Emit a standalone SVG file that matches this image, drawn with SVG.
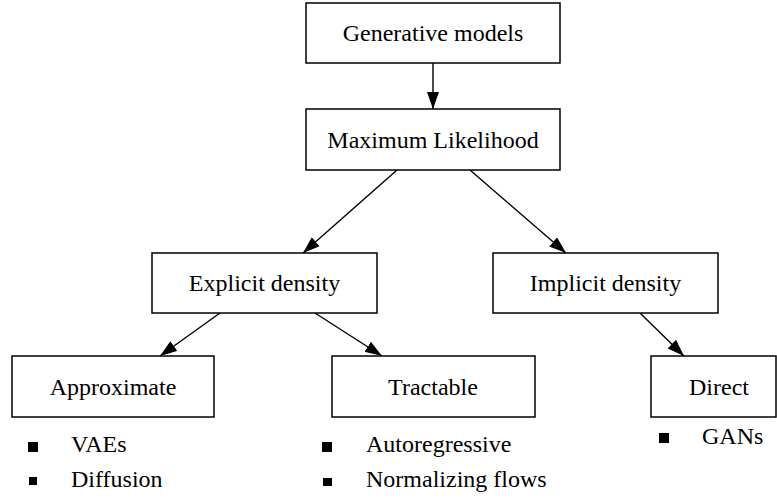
<svg xmlns="http://www.w3.org/2000/svg" width="777" height="500" viewBox="0 0 777 500">
<style>
.box{fill:#fff;stroke:#000;stroke-width:1.5}
.lbl{font-family:"Liberation Serif","Times New Roman",serif;font-size:24px;fill:#000;text-anchor:middle}
.item{font-family:"Liberation Serif","Times New Roman",serif;font-size:24px;fill:#000}
.edge{stroke:#000;stroke-width:1.4;fill:none;marker-end:url(#ah)}
.bullet{fill:#000}
</style>
<defs>
<marker id="ah" markerUnits="userSpaceOnUse" markerWidth="18" markerHeight="13" refX="17" refY="6" orient="auto">
<path d="M0,0 L17,6 L0,12 z" fill="#000"/>
</marker>
</defs>
<rect width="777" height="500" fill="#fff"/>
<g id="connectors">
<line class="edge" x1="433" y1="63" x2="433" y2="109"/>
<line class="edge" x1="397" y1="170" x2="303" y2="253"/>
<line class="edge" x1="470" y1="170" x2="566" y2="253"/>
<line class="edge" x1="220" y1="313" x2="160" y2="356"/>
<line class="edge" x1="315" y1="313" x2="382" y2="356"/>
<line class="edge" x1="640" y1="313" x2="684" y2="356"/>
</g>
<g id="generative">
<rect class="box" x="306" y="3" width="254" height="60"/>
<text class="lbl" x="433" y="41">Generative models</text>
</g>
<g id="maxlik">
<rect class="box" x="306" y="109" width="254" height="61"/>
<text class="lbl" x="433" y="147.5">Maximum Likelihood</text>
</g>
<g id="explicit">
<rect class="box" x="152" y="253" width="225" height="60"/>
<text class="lbl" x="264.5" y="291">Explicit density</text>
</g>
<g id="implicit">
<rect class="box" x="493" y="253" width="225" height="60"/>
<text class="lbl" x="605.5" y="291">Implicit density</text>
</g>
<g id="approximate">
<rect class="box" x="12" y="356" width="202" height="61"/>
<text class="lbl" x="113" y="394.5">Approximate</text>
<rect class="bullet" x="28" y="442" width="10" height="10"/>
<text class="item" x="71" y="452">VAEs</text>
<rect class="bullet" x="29" y="477" width="8" height="8"/>
<text class="item" x="71" y="487">Diffusion</text>
</g>
<g id="tractable">
<rect class="box" x="332" y="356" width="203" height="61"/>
<text class="lbl" x="433" y="394.5">Tractable</text>
<rect class="bullet" x="322" y="442" width="10" height="10"/>
<text class="item" x="366" y="452">Autoregressive</text>
<rect class="bullet" x="323" y="478" width="9" height="8"/>
<text class="item" x="366" y="487">Normalizing flows</text>
</g>
<g id="direct">
<rect class="box" x="651" y="356" width="125" height="61"/>
<text class="lbl" x="719" y="394.5">Direct</text>
<rect class="bullet" x="659" y="433" width="10" height="10"/>
<text class="item" x="702" y="444">GANs</text>
</g>
</svg>
